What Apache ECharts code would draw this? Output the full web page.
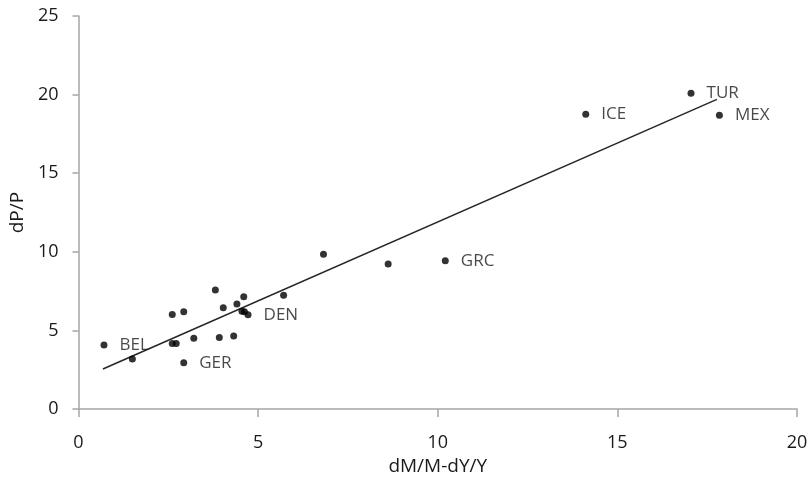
<!DOCTYPE html>
<html><head><meta charset="utf-8">
<script src="https://cdn.jsdelivr.net/npm/echarts@6/dist/echarts.min.js"></script>
<style>html,body{margin:0;padding:0;background:#fff}#c{width:811px;height:481px}</style>
</head><body><div id="c"></div>
<script>
var countries = ['BEL','','','','','','GER','','','','','','','','','','DEN','','','','GRC','ICE','TUR','MEX'];
var xValues = [0.71,1.50,2.61,2.93,2.61,2.72,2.93,3.21,3.81,3.92,4.03,4.32,4.41,4.60,4.55,4.62,4.72,5.71,6.82,8.62,10.21,14.12,17.05,17.84];
var yValues = [4.08,3.18,6.02,6.19,4.17,4.17,2.95,4.50,7.58,4.55,6.44,4.65,6.69,7.15,6.23,6.19,6.00,7.24,9.85,9.22,9.43,18.75,20.08,18.69];
var trendX = [0.68, 17.77];
var trendY = [2.55, 19.70];
var xTicks = [0,5,10,15,20];
var yTicks = [0,5,10,15,20,25];

var font = '"Open Sans", "Liberation Sans", sans-serif';
var txt = '#1a1a1a';
var pts = xValues.map(function(x,i){ return {value:[x, yValues[i]], name: countries[i]}; });
var chart = echarts.init(document.getElementById('c'));
chart.setOption({
  animation:false,
  grid:{left:75,right:14,top:16,bottom:69},
  xAxis:{type:'value',min:xTicks[0],max:xTicks[xTicks.length-1],interval:5,
    name:'dM/M-dY/Y',nameLocation:'middle',nameGap:43,
    nameTextStyle:{fontFamily:font,fontSize:19,color:txt},
    axisLine:{lineStyle:{color:'#a6a6a6',width:1.5}},
    axisTick:{show:true,inside:false,length:8,lineStyle:{color:'#a6a6a6',width:1.5}},
    axisLabel:{fontFamily:font,fontSize:18,color:txt,margin:25},
    splitLine:{show:false}},
  yAxis:{type:'value',min:yTicks[0],max:yTicks[yTicks.length-1],interval:5,
    name:'dP/P',nameLocation:'middle',nameGap:48,nameRotate:90,
    nameTextStyle:{fontFamily:font,fontSize:19,color:txt},
    axisLine:{show:true,lineStyle:{color:'#a6a6a6',width:1.5}},
    axisTick:{show:true,inside:false,length:6,lineStyle:{color:'#a6a6a6',width:1.5}},
    axisLabel:{fontFamily:font,fontSize:18,color:txt,margin:20},
    splitLine:{show:false}},
  series:[
    {type:'line',data:trendX.map(function(x,i){return [x,trendY[i]];}),
     symbol:'none',lineStyle:{color:'#262626',width:1.5},z:1},
    {type:'scatter',data:pts,symbol:'circle',symbolSize:7,
     itemStyle:{color:'#000'},z:2,
     label:{show:true,position:'right',distance:12,
       formatter:function(p){return p.name;},
       fontFamily:font,fontSize:17,color:txt}}
  ]
});
</script></body></html>
